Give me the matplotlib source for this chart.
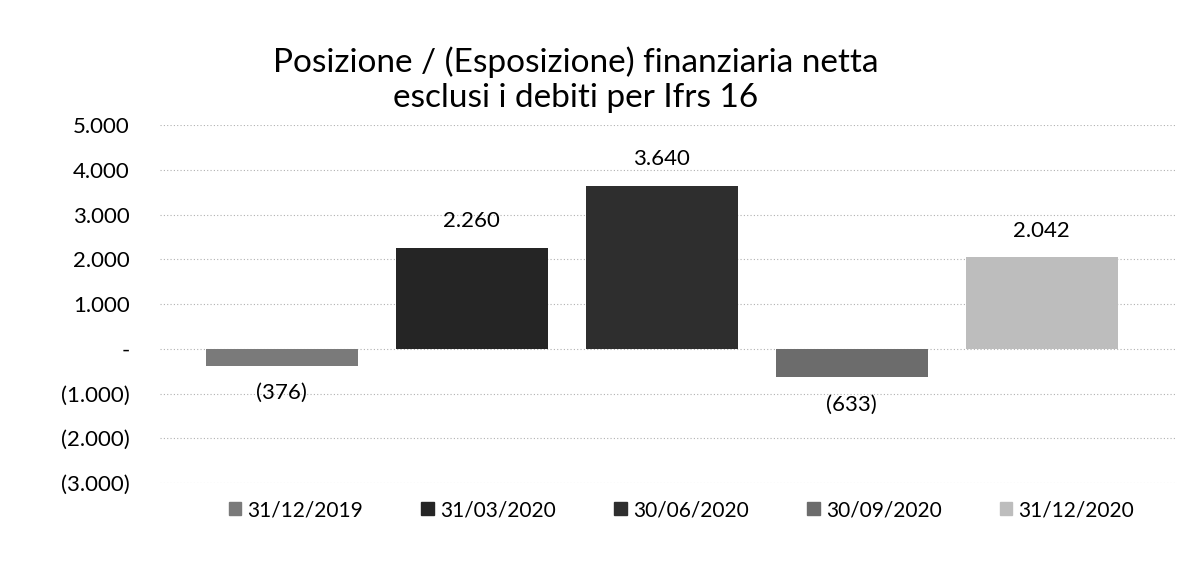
import matplotlib.pyplot as plt
from matplotlib.patches import Patch

# dati
periodi = ["31/12/2019", "31/03/2020", "30/06/2020", "30/09/2020", "31/12/2020"]
valori = [-376, 2260, 3640, -633, 2042]
colori = ["#7a7a7a", "#252525", "#2e2e2e", "#6c6c6c", "#bdbdbd"]
yticks = [-3000, -2000, -1000, 0, 1000, 2000, 3000, 4000, 5000]

plt.rcParams["font.family"] = ["Lato", "DejaVu Sans"]


def fmt(v):
    if v == 0:
        return "-"
    s = f"{abs(v):,}".replace(",", ".")
    return f"({s})" if v < 0 else s


fig = plt.figure(figsize=(11.77, 5.83), dpi=100)
ax = fig.add_axes([0.136, 0.1715, 0.862, 0.614])

x = range(len(periodi))
ax.bar(x, valori, width=0.8, color=colori, zorder=2)

for i, v in enumerate(valori):
    off = 600 if v >= 0 else -620
    ax.text(i, v + off, fmt(v), ha="center", va="center", fontsize=16)

ax.set_ylim(-3000, 5000)
ax.set_xlim(-0.64, 4.7)
ax.set_yticks(yticks)
ax.set_yticklabels([fmt(t) for t in yticks], fontsize=16)
ax.set_xticks([])
ax.tick_params("y", length=0, pad=22)
for sp in ax.spines.values():
    sp.set_visible(False)
ax.grid(axis="y", color="#b0b0b0", linestyle=(0, (1, 2)), linewidth=0.8, zorder=0)

fig.text(0.489, 0.863, "Posizione / (Esposizione) finanziaria netta\nesclusi i debiti per Ifrs 16",
         ha="center", va="center", fontsize=24, linespacing=1.2)

handles = [Patch(color=c, label=p) for c, p in zip(colori, periodi)]
fig.legend(handles=handles, loc="center", bbox_to_anchor=(0.579, 0.125), ncol=5,
           frameon=False, fontsize=15, handlelength=0.6, handleheight=0.6,
           handletextpad=0.3, columnspacing=2.8)

fig.savefig("out.png", dpi=100)
